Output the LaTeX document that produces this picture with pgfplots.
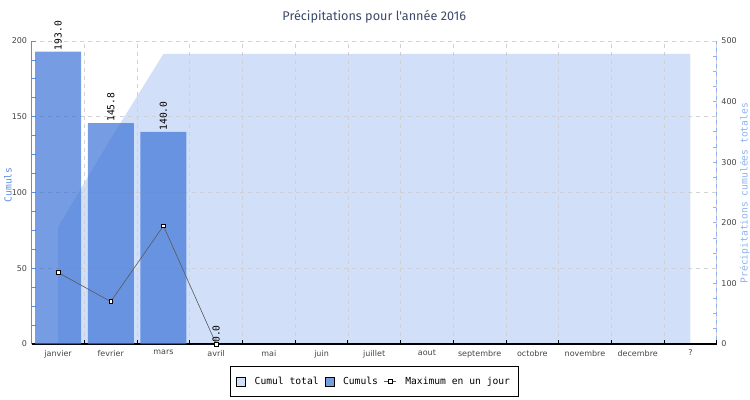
\documentclass[border=0pt]{standalone}
\usepackage{pgfplots}
\pgfplotsset{compat=1.18}
\usepackage{fontspec}
\setmainfont{DejaVu Sans}
\setmonofont{DejaVu Sans Mono}
\newfontfamily\titlefont{Fira Sans}
\definecolor{areacol}{HTML}{D1DFF8}
\definecolor{barcol}{HTML}{3C73D7}
\definecolor{leftax}{HTML}{5B8DE0}
\definecolor{rightax}{HTML}{8AB2F2}
\definecolor{titlecol}{HTML}{3B4A6B}
\definecolor{ticktext}{HTML}{444444}
\begin{document}
\begin{tikzpicture}
\path[use as bounding box] (0,0) rectangle (562.5pt,300pt);
% right axis: cumulative total
\begin{axis}[
  at={(23.8pt,42pt)}, anchor=south west,
  scale only axis, width=513.75pt, height=227.25pt,
  xmin=-0.5, xmax=12.5, ymin=0, ymax=500,
  axis x line=none, axis y line=right, axis line style={-},
  y axis line style={rightax, line width=0.8pt},
  ytick={0,100,200,300,400,500}, minor y tick num=3,
  tick align=inside, major tick length=3pt, minor tick length=3pt,
  ytick style={rightax, line width=0.6pt},
  minor y tick style={rightax, line width=0.6pt},
  /pgf/number format/assume math mode=true,
  yticklabel style={font=\fontsize{6}{7}\selectfont, text=ticktext},
  ylabel={Précipitations cumulées totales},
  ylabel style={at={(axis description cs:1.041,0.498)}, anchor=center, rotate=0,
    font=\ttfamily\fontsize{7.25}{8}\selectfont, text=rightax},
]
\addplot[fill=areacol, draw=none] coordinates {
  (0,193.0) (1,338.8) (2,478.8) (3,478.8) (4,478.8) (5,478.8) (6,478.8)
  (7,478.8) (8,478.8) (9,478.8) (10,478.8) (11,478.8) (12,478.8)} \closedcycle;
\end{axis}
% left axis: monthly totals and daily maximum
\begin{axis}[
  at={(23.8pt,42pt)}, anchor=south west,
  scale only axis, width=513.75pt, height=227.25pt,
  xmin=-0.5, xmax=12.5, ymin=0, ymax=200,
  clip=false,
  axis x line=bottom, axis y line=left, axis line style={-},
  x axis line style={black, line width=0.8pt},
  y axis line style={leftax, line width=0.8pt},
  xtick={-0.5,0.5,1.5,2.5,3.5,4.5,5.5,6.5,7.5,8.5,9.5,10.5,11.5,12.5},
  x tick label as interval,
  xticklabels={janvier,fevrier,mars,avril,mai,juin,juillet,aout,septembre,octobre,novembre,decembre,?},
  ytick={0,50,100,150,200}, minor y tick num=3,
  tick align=inside, major tick length=3pt, minor tick length=3pt,
  xtick style={black, line width=0.6pt},
  ytick style={leftax, line width=0.6pt},
  minor y tick style={leftax, line width=0.6pt},
  grid=major, major grid style={dashed, black!18, line width=0.5pt},
  /pgf/number format/assume math mode=true,
  xticklabel style={font=\fontsize{6}{7}\selectfont, text=ticktext, yshift=-1pt},
  yticklabel style={font=\fontsize{6}{7}\selectfont, text=ticktext},
  ylabel={Cumuls},
  ylabel style={at={(axis description cs:-0.0346,0.525)}, anchor=center,
    font=\ttfamily\fontsize{7.25}{8}\selectfont, text=leftax},
  title={\titlefont Précipitations pour l'année 2016},
  title style={at={(axis description cs:0.5,1.053)}, anchor=center,
    font=\fontsize{9.5}{11}\selectfont, text=titlecol},
  legend style={at={(axis description cs:0.5004,-0.124)}, anchor=center,
    draw=black, line width=0.6pt, inner xsep=4.5pt, inner ysep=5.5pt,
    font=\ttfamily\fontsize{7.25}{8}\selectfont, legend columns=-1,
    /tikz/every odd column/.append style={column sep=4.5pt},
    /tikz/every even column/.append style={column sep=2.5pt}},
]
\addlegendimage{legend image code/.code={\draw[fill=areacol, draw=black, line width=0.5pt] (0pt,-3.4pt) rectangle (6.8pt,3.4pt);}}
\addlegendentry{Cumul total}
\addplot[ybar, bar width=0.873, fill=barcol, fill opacity=0.7, draw=none,
  nodes near coords={\pgfmathprintnumber[fixed,fixed zerofill,precision=1]{\pgfplotspointmeta}},
  every node near coord/.append style={rotate=90, anchor=west, inner sep=0.8pt,
    font=\ttfamily\fontsize{7.25}{8}\selectfont, text=black, text opacity=1},
  legend image code/.code={\draw[fill=barcol, fill opacity=0.7, draw=black, line width=0.5pt] (0pt,-3.4pt) rectangle (6.8pt,3.4pt);}
] coordinates {(0,193.0) (1,145.8) (2,140.0) (3,0.0)};
\addlegendentry{Cumuls}
\addplot[color=black!65, line width=0.45pt, mark=square*, mark size=1.4pt,
  mark options={fill=white, draw=black, solid, line width=0.5pt},
  legend image code/.code={\draw[black!65, line width=0.45pt] (0pt,0pt) -- (9pt,0pt);
    \draw[black, fill=white, line width=0.5pt] (3.1pt,-1.4pt) rectangle (5.9pt,1.4pt);}
] coordinates {(0,47.2) (1,28.0) (2,78.0) (3,0.0)};
\addlegendentry{Maximum en un jour}
\end{axis}
\end{tikzpicture}
\end{document}
